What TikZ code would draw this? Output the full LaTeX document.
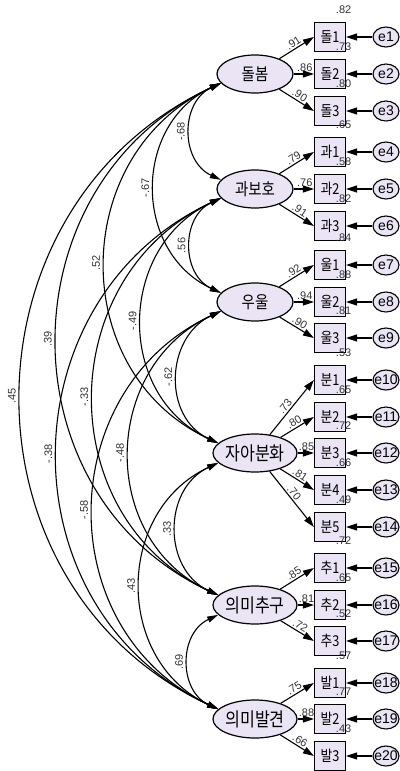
\documentclass[tikz,border=0pt]{standalone}
\usepackage{fontspec}
\setmainfont{Liberation Sans}
\newfontfamily\kr[FakeStretch=0.85]{Noto Sans CJK KR}
\usetikzlibrary{shapes.geometric,arrows.meta,calc}
\definecolor{lav}{HTML}{EAE4F4}
\definecolor{lbl}{HTML}{333333}
\begin{document}
\begin{tikzpicture}[x=1pt,y=1pt,
 lat/.style={ellipse,draw,line width=1.2pt,fill=lav,minimum width=76pt,minimum height=38pt,inner sep=0pt,font=\kr\fontsize{17}{17}\selectfont},
 lat4/.style={lat,font=\kr\fontsize{19}{19}\selectfont},
 obs/.style={rectangle,draw,line width=1.2pt,fill=lav,minimum width=31pt,minimum height=29pt,inner sep=0pt,font=\kr\fontsize{15}{15}\selectfont},
 err/.style={ellipse,draw,line width=1.1pt,fill=lav,minimum width=26pt,minimum height=20pt,inner xsep=-4pt,inner ysep=0pt,font=\fontsize{14}{14}\selectfont},
 ld/.style={-{Triangle[length=11pt,width=7pt]},line width=1.1pt},
 cv/.style={{Triangle[length=11pt,width=6pt]}-{Triangle[length=11pt,width=6pt]},line width=1.1pt},
 covarc/.style={out=205,in=155,looseness=1.19},
 num/.style={font=\fontsize{11}{11}\selectfont,text=lbl},
 ll/.style={num,sloped,above,inner sep=1.5pt},
 cl/.style={num,midway,rotate=90,anchor=south,inner sep=5pt},
 r2/.style={num,anchor=south,inner sep=0pt}
]
\useasboundingbox (0,0) rectangle (399,-771);

% latent variables
\node[lat]  (L1) at (255,-74)  {돌봄};
\node[lat]  (L2) at (255,-189) {과보호};
\node[lat]  (L3) at (255,-302) {우울};
\node[lat4] (L4) at (255,-453) {자아분화};
\node[lat4] (L5) at (255,-605) {의미추구};
\node[lat4] (L6) at (255,-719) {의미발견};

% observed variables
\node[obs] (b1)  at (330,-37)  {돌1};
\node[obs] (b2)  at (330,-74)  {돌2};
\node[obs] (b3)  at (330,-111) {돌3};
\node[obs] (b4)  at (330,-152) {과1};
\node[obs] (b5)  at (330,-189) {과2};
\node[obs] (b6)  at (330,-226) {과3};
\node[obs] (b7)  at (330,-265) {울1};
\node[obs] (b8)  at (330,-302) {울2};
\node[obs] (b9)  at (330,-338) {울3};
\node[obs] (b10) at (330,-380) {분1};
\node[obs] (b11) at (330,-417) {분2};
\node[obs] (b12) at (330,-453) {분3};
\node[obs] (b13) at (330,-490) {분4};
\node[obs] (b14) at (330,-527) {분5};
\node[obs] (b15) at (330,-568) {추1};
\node[obs] (b16) at (330,-605) {추2};
\node[obs] (b17) at (330,-641) {추3};
\node[obs] (b18) at (330,-683) {발1};
\node[obs] (b19) at (330,-719) {발2};
\node[obs] (b20) at (330,-756) {발3};

% error terms
\foreach \i/\y in {1/37,2/74,3/111,4/152,5/189,6/226,7/265,8/302,9/338,10/380,11/417,12/453,13/490,14/527,15/568,16/605,17/641,18/683,19/719,20/756}{
  \node[err] (e\i) at (386,-\y) {e\i};
  \draw[ld] (e\i) -- (b\i);
}

% squared multiple correlations
\foreach \i/\v in {1/.82,2/.73,3/.80,4/.65,5/.58,6/.82,7/.84,8/.88,9/.81,10/.53,11/.65,12/.72,13/.66,14/.49,15/.72,16/.65,17/.52,18/.57,19/.77,20/.43}{
  \node[r2] (r\i) at ([shift={(-2.5,8)}]b\i.north east) {\v};
}

% loadings
\draw[ld] (L1) -- node[ll] {.91} (b1.west);
\draw[ld] (L1) -- node[ll,pos=.55] {.86} (b2.west);
\draw[ld] (L1) -- node[ll] {.90} (b3.west);
\draw[ld] (L2) -- node[ll] {.79} (b4.west);
\draw[ld] (L2) -- node[ll,pos=.55] {.76} (b5.west);
\draw[ld] (L2) -- node[ll] {.91} (b6.west);
\draw[ld] (L3) -- node[ll] {.92} (b7.west);
\draw[ld] (L3) -- node[ll,pos=.55] {.94} (b8.west);
\draw[ld] (L3) -- node[ll] {.90} (b9.west);
\draw[ld] (L4) -- node[ll,pos=.45] {.73} (b10.west);
\draw[ld] (L4) -- node[ll] {.80} (b11.west);
\draw[ld] (L4) -- node[ll,pos=.55] {.85} (b12.west);
\draw[ld] (L4) -- node[ll] {.81} (b13.west);
\draw[ld] (L4) -- node[ll,pos=.45] {.70} (b14.west);
\draw[ld] (L5) -- node[ll] {.85} (b15.west);
\draw[ld] (L5) -- node[ll,pos=.55] {.81} (b16.west);
\draw[ld] (L5) -- node[ll] {.72} (b17.west);
\draw[ld] (L6) -- node[ll] {.75} (b18.west);
\draw[ld] (L6) -- node[ll,pos=.55] {.88} (b19.west);
\draw[ld] (L6) -- node[ll] {.66} (b20.west);

% covariances
\draw[cv] (L1.195) to[covarc] node[cl] {-.68} (L2.165);
\draw[cv] (L1.195) to[covarc] node[cl] {-.67} (L3.165);
\draw[cv] (L1.195) to[covarc] node[cl] {.52}  (L4.165);
\draw[cv] (L1.195) to[covarc] node[cl] {.39}  (L5.165);
\draw[cv] (L1.195) to[covarc] node[cl] {.45}  (L6.165);
\draw[cv] (L2.195) to[covarc] node[cl] {.56}  (L3.165);
\draw[cv] (L2.195) to[covarc] node[cl] {-.49} (L4.165);
\draw[cv] (L2.195) to[covarc] node[cl] {-.33} (L5.165);
\draw[cv] (L2.195) to[covarc] node[cl] {-.38} (L6.165);
\draw[cv] (L3.195) to[covarc] node[cl] {-.62} (L4.165);
\draw[cv] (L3.195) to[covarc] node[cl] {-.48} (L5.165);
\draw[cv] (L3.195) to[covarc] node[cl] {-.58} (L6.165);
\draw[cv] (L4.195) to[covarc] node[cl] {.33}  (L5.165);
\draw[cv] (L4.195) to[covarc] node[cl] {.43}  (L6.165);
\draw[cv] (L5.195) to[covarc] node[cl] {.69}  (L6.165);
\end{tikzpicture}
\end{document}
